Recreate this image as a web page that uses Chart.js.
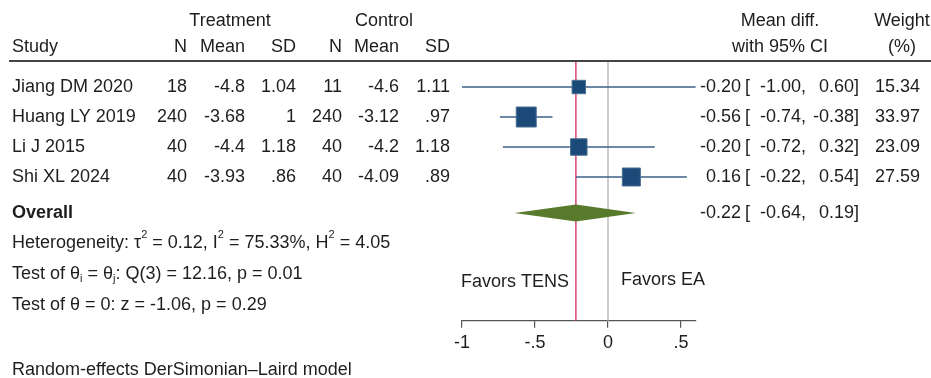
<!DOCTYPE html>
<html>
<head>
<meta charset="utf-8">
<script src="https://cdn.jsdelivr.net/npm/chart.js@4.4.1/dist/chart.umd.min.js"></script>
<style>
  html, body { margin: 0; padding: 0; background: #fff; }
  #wrap { width: 931px; height: 378px; position: relative; }
</style>
</head>
<body>
<div id="wrap"><canvas id="forest" width="931" height="378"></canvas></div>
<script>
// Forest plot: TENS vs EA, random-effects DerSimonian-Laird

const studies = ['Jiang DM 2020', 'Huang LY 2019', 'Li J 2015', 'Shi XL 2024'];
const trtN = ['18', '240', '40', '40'];
const trtMean = ['-4.8', '-3.68', '-4.4', '-3.93'];
const trtSD = ['1.04', '1', '1.18', '.86'];
const ctlN = ['11', '240', '40', '40'];
const ctlMean = ['-4.6', '-3.12', '-4.2', '-4.09'];
const ctlSD = ['1.11', '.97', '1.18', '.89'];

const meanDiff = [-0.20, -0.56, -0.20, 0.16];
const ciLow = [-1.00, -0.74, -0.72, -0.22];
const ciHigh = [0.60, -0.38, 0.32, 0.54];
const weights = [15.34, 33.97, 23.09, 27.59];

const overallES = -0.22;
const overallLow = -0.64;
const overallHigh = 0.19;

const xTicks = [-1, -0.5, 0, 0.5];

// row positions (y units, one per row)
const studyRows = studies.map((s, i) => i + 1);
const overallRow = 5.2;

const FONT = '"Liberation Sans", Arial, sans-serif';
const FS = 18;
const TXT = '#1e1e1e';

function fmt(v) {
    const s = Math.abs(v).toFixed(2);
    return (v < 0 ? '-' : '') + s;
}

function text(ctx, str, x, y, align, bold, size) {
    ctx.font = (bold ? 'bold ' : '') + (size || FS) + 'px ' + FONT;
    ctx.textAlign = align || 'left';
    ctx.textBaseline = 'middle';
    ctx.fillStyle = TXT;
    ctx.fillText(str, x, y);
}

// draw text made of pieces: [string, 'sup' | 'sub' | undefined]
function richText(ctx, parts, x, y) {
    ctx.textAlign = 'left';
    ctx.textBaseline = 'middle';
    ctx.fillStyle = TXT;
    let cx = x;
    parts.forEach(([s, kind]) => {
        let dy = 0;
        if (kind) {
            ctx.font = '11px ' + FONT;
            dy = kind === 'sup' ? -8 : 5;
        } else {
            ctx.font = FS + 'px ' + FONT;
        }
        ctx.fillText(s, cx, y + dy);
        cx += ctx.measureText(s).width;
    });
}

// effect size and CI columns
function ciText(ctx, es, lo, hi, py) {
    text(ctx, fmt(es), 741, py, 'right');
    text(ctx, '[', 745, py);
    text(ctx, fmt(lo) + ',', 806, py, 'right');
    text(ctx, fmt(hi) + ']', 859, py, 'right');
}

const forestPlugin = {
    id: 'forest',
    beforeDatasetsDraw(chart) {
        const { ctx, scales: { x, y }, chartArea } = chart;
        ctx.save();

        // reference lines: no effect and overall estimate
        ctx.lineWidth = 1.5;
        ctx.strokeStyle = '#bdbdbd';
        ctx.beginPath();
        ctx.moveTo(x.getPixelForValue(0), chartArea.top);
        ctx.lineTo(x.getPixelForValue(0), chartArea.bottom);
        ctx.stroke();

        ctx.strokeStyle = '#de4474';
        ctx.beginPath();
        ctx.moveTo(x.getPixelForValue(overallES), chartArea.top);
        ctx.lineTo(x.getPixelForValue(overallES), chartArea.bottom);
        ctx.stroke();

        // confidence intervals
        ctx.strokeStyle = '#3b6187';
        ctx.lineWidth = 1.5;
        studyRows.forEach((r, i) => {
            const py = y.getPixelForValue(r);
            ctx.beginPath();
            ctx.moveTo(x.getPixelForValue(ciLow[i]), py);
            ctx.lineTo(x.getPixelForValue(ciHigh[i]), py);
            ctx.stroke();
        });

        // overall diamond
        const dy = y.getPixelForValue(overallRow);
        const half = 8.5;
        ctx.fillStyle = '#587a2c';
        ctx.beginPath();
        ctx.moveTo(x.getPixelForValue(overallLow), dy);
        ctx.lineTo(x.getPixelForValue(overallES), dy - half);
        ctx.lineTo(x.getPixelForValue(overallHigh), dy);
        ctx.lineTo(x.getPixelForValue(overallES), dy + half);
        ctx.closePath();
        ctx.fill();

        ctx.restore();
    },
    afterDraw(chart) {
        const { ctx, scales: { y } } = chart;
        ctx.save();

        // header
        text(ctx, 'Treatment', 230, 21, 'center');
        text(ctx, 'Control', 384, 21, 'center');
        text(ctx, 'Mean diff.', 780, 21, 'center');
        text(ctx, 'Weight', 902, 21, 'center');
        text(ctx, 'Study', 12, 47);
        text(ctx, 'N', 187, 47, 'right');
        text(ctx, 'Mean', 245, 47, 'right');
        text(ctx, 'SD', 296, 47, 'right');
        text(ctx, 'N', 342, 47, 'right');
        text(ctx, 'Mean', 399, 47, 'right');
        text(ctx, 'SD', 450, 47, 'right');
        text(ctx, 'with 95% CI', 780, 47, 'center');
        text(ctx, '(%)', 902, 47, 'center');

        // header rule
        ctx.fillStyle = '#444';
        ctx.fillRect(9, 60, 922, 2);

        // study rows
        studyRows.forEach((r, i) => {
            const py = y.getPixelForValue(r);
            text(ctx, studies[i], 12, py);
            text(ctx, trtN[i], 187, py, 'right');
            text(ctx, trtMean[i], 245, py, 'right');
            text(ctx, trtSD[i], 296, py, 'right');
            text(ctx, ctlN[i], 342, py, 'right');
            text(ctx, ctlMean[i], 399, py, 'right');
            text(ctx, ctlSD[i], 450, py, 'right');
            ciText(ctx, meanDiff[i], ciLow[i], ciHigh[i], py);
            text(ctx, weights[i].toFixed(2), 920, py, 'right');
        });

        // overall row
        const oy = y.getPixelForValue(overallRow);
        text(ctx, 'Overall', 12, oy, 'left', true);
        ciText(ctx, overallES, overallLow, overallHigh, oy);

        // heterogeneity and tests
        richText(ctx, [['Heterogeneity: \u03c4'], ['2', 'sup'], [' = 0.12, I'], ['2', 'sup'],
            [' = 75.33%, H'], ['2', 'sup'], [' = 4.05']], 12, 243);
        richText(ctx, [['Test of \u03b8'], ['i', 'sub'], [' = \u03b8'], ['j', 'sub'],
            [': Q(3) = 12.16, p = 0.01']], 12, 274);
        richText(ctx, [['Test of \u03b8 = 0: z = -1.06, p = 0.29']], 12, 305);

        text(ctx, 'Favors TENS', 461, 282);
        text(ctx, 'Favors EA', 621, 280);

        text(ctx, 'Random-effects DerSimonian\u2013Laird model', 12, 370);

        ctx.restore();
    }
};

const sideFor = w => 3.43 * Math.sqrt(w);

new Chart(document.getElementById('forest'), {
    type: 'scatter',
    data: {
        datasets: [{
            label: 'Studies',
            data: studyRows.map((r, i) => ({ x: meanDiff[i], y: r })),
            pointStyle: 'rect',
            pointRadius: weights.map(w => sideFor(w) / Math.SQRT2),
            pointHoverRadius: weights.map(w => sideFor(w) / Math.SQRT2),
            backgroundColor: '#1b4a78',
            borderColor: '#4b6f95',
            borderWidth: 1
        }]
    },
    options: {
        responsive: false,
        animation: false,
        devicePixelRatio: 1,
        layout: {
            padding: { left: 462, right: 235.4, top: 61, bottom: 0 }
        },
        plugins: {
            legend: { display: false },
            tooltip: { enabled: false }
        },
        scales: {
            x: {
                type: 'linear',
                min: -1,
                max: 0.6,
                afterBuildTicks: scale => { scale.ticks = xTicks.map(v => ({ value: v })); },
                afterFit: scale => { scale.height = 57.3; },
                border: { display: true, color: '#555', width: 1.2 },
                grid: { drawOnChartArea: false, drawTicks: true, tickLength: 7, color: '#555', lineWidth: 1.2 },
                ticks: {
                    padding: 5,
                    color: TXT,
                    font: { family: FONT, size: FS },
                    maxRotation: 0,
                    callback: v => v === 0 ? '0' : String(v).replace('0.', '.')
                }
            },
            y: {
                type: 'linear',
                display: false,
                reverse: true,
                min: 0.133,
                max: 8.79
            }
        }
    },
    plugins: [forestPlugin]
});
</script>
</body>
</html>
